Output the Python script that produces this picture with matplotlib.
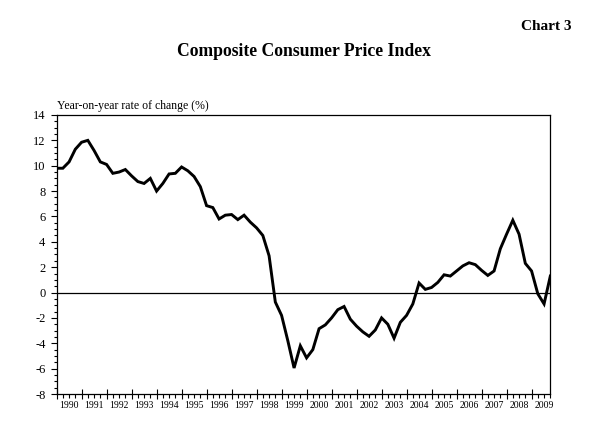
import numpy as np
import matplotlib
matplotlib.use("Agg")
import matplotlib.pyplot as plt
from matplotlib.ticker import MultipleLocator
import matplotlib.transforms as mtransforms

# quarterly year-on-year change of the Composite CPI, 1990 Q1 - 2009 Q4
start_year = 1990
cpi = [9.8, 9.8, 10.3, 11.3, 11.85, 12.0, 11.2, 10.3, 10.1, 9.4,
       9.5, 9.7, 9.2, 8.75, 8.6, 9.0, 8.0, 8.6, 9.35, 9.4,
       9.9, 9.6, 9.15, 8.35, 6.85, 6.7, 5.8, 6.1, 6.15, 5.75,
       6.1, 5.55, 5.1, 4.5, 2.9, -0.75, -1.8, -3.8, -5.95, -4.2,
       -5.15, -4.5, -2.85, -2.55, -2.0, -1.35, -1.1, -2.1, -2.65, -3.1,
       -3.45, -2.95, -2.0, -2.5, -3.6, -2.35, -1.8, -0.9, 0.75, 0.25,
       0.4, 0.8, 1.4, 1.3, 1.7, 2.1, 2.35, 2.2, 1.75, 1.35,
       1.7, 3.45, 4.6, 5.7, 4.6, 2.3, 1.7, -0.1, -0.9, 1.3]
years = list(range(1990, 2010))
y_ticks = list(range(-8, 15, 2))

plt.rcParams['font.family'] = ['Liberation Serif', 'DejaVu Serif']
plt.rcParams['axes.unicode_minus'] = False

t = start_year + np.arange(len(cpi)) / 4.0

fig = plt.figure(figsize=(6, 4.26), dpi=100)
ax = fig.add_axes([0.0943, 0.0751, 0.8229, 0.655])

ax.plot(t, cpi, color='black', lw=2.1, solid_joinstyle='miter')
ax.axhline(0, color='black', lw=0.9)

ax.set_xlim(t[0], t[-1])
ax.set_ylim(-8, 14)
ax.set_yticks(y_ticks)
ax.yaxis.set_minor_locator(MultipleLocator(0.5))
ax.tick_params(axis='y', which='major', direction='out', length=4, width=0.8,
               labelsize=9, pad=4)
ax.tick_params(axis='y', which='minor', direction='out', length=2.5, width=0.8)

ax.set_xticks(years)
ax.set_xticklabels([])
ax.set_xticks(t, minor=True)
ax.tick_params(axis='x', which='major', direction='inout', length=7, width=0.8)
ax.tick_params(axis='x', which='minor', direction='out', length=3, width=0.8)

trans = mtransforms.blended_transform_factory(ax.transData, ax.transAxes)
for yr in years:
    ax.text(yr + 0.5, -0.024, str(yr), transform=trans, ha='center', va='top',
            fontsize=7)

for sp in ax.spines.values():
    sp.set_linewidth(0.9)

ax.text(0.0, 1.012, 'Year-on-year rate of change (%)', transform=ax.transAxes,
        ha='left', va='bottom', fontsize=8.5)

fig.text(0.507, 1 - 51 / 426, 'Composite Consumer Price Index', ha='center',
         va='center', fontsize=12.7, fontweight='bold')
fig.text(0.952, 1 - 27 / 426, 'Chart 3', ha='right', va='center',
         fontsize=11, fontweight='bold')

fig.savefig('out.png', dpi=100)
